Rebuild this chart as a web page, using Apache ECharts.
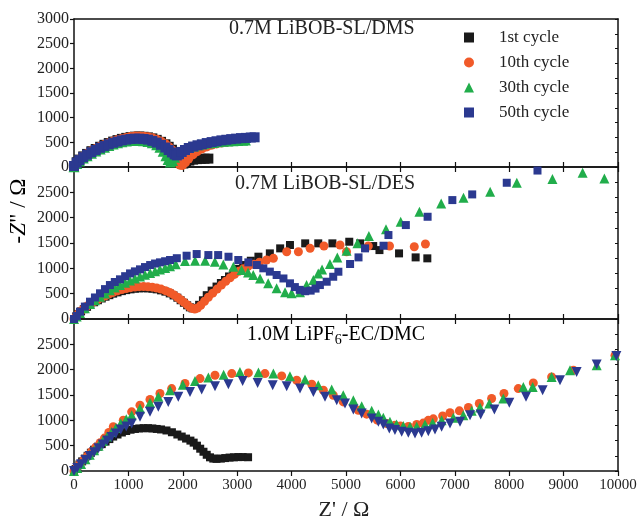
<!DOCTYPE html>
<html><head><meta charset="utf-8">
<script src="https://cdn.jsdelivr.net/npm/echarts@6/dist/echarts.min.js"></script>
<style>html,body{margin:0;padding:0;background:#fff}#c{width:641px;height:522px}</style>
</head><body><div id="c"></div>
<script>
// ---------- data (Z', -Z'') ----------
const cycleNames = ['1st cycle', '10th cycle', '30th cycle', '50th cycle'];
const panelLabels = ['0.7M LiBOB-SL/DMS', '0.7M LiBOB-SL/DES', '1.0M LiPF6-EC/DMC'];
const xTicks = [0, 10000, 1000];
const yTicks = [0, 3000, 500];

// Panel 1: 0.7M LiBOB-SL/DMS
const dms1 = [[0,20],[50,95],[100,150],[170,215],[240,265],[320,320],[400,365],[480,410],[560,450],[640,485],[720,515],[800,545],[880,570],[960,590],[1040,605],[1120,615],[1200,618],[1280,612],[1360,600],[1440,580],[1520,550],[1600,510],[1680,460],[1740,410],[1800,350],[1850,290],[1900,220],[1940,150],[1975,90],[2010,70],[2060,100],[2120,130],[2190,150],[2260,160],[2330,165],[2400,168],[2470,170]];
const dms10 = [[0,15],[50,90],[100,145],[170,210],[240,262],[320,318],[400,365],[480,408],[560,448],[640,483],[720,515],[800,545],[880,570],[960,590],[1040,607],[1120,617],[1200,620],[1280,615],[1360,603],[1440,583],[1520,553],[1600,512],[1680,460],[1740,405],[1800,340],[1850,270],[1890,190],[1920,110],[1950,45],[1990,40],[2040,90],[2100,170],[2180,255],[2260,320],[2350,375],[2440,415],[2530,450],[2620,475],[2710,495],[2800,510],[2890,523],[2980,533],[3070,540],[3140,545]];
const dms30 = [[0,5],[50,70],[100,120],[170,180],[240,230],[320,280],[400,325],[480,365],[560,400],[640,435],[720,465],[800,490],[880,510],[960,525],[1040,535],[1120,540],[1200,538],[1280,530],[1360,515],[1440,490],[1520,450],[1580,400],[1640,320],[1690,230],[1730,150],[1770,100],[1810,130],[1850,200],[1900,270],[1960,320],[2030,360],[2110,395],[2200,425],[2290,450],[2380,470],[2470,485],[2560,498],[2650,510],[2740,520],[2830,527],[2920,533],[3010,538],[3100,542],[3150,545]];
const dms50 = [[0,20],[50,90],[100,140],[170,200],[240,250],[320,300],[400,345],[480,390],[560,425],[640,460],[720,490],[800,515],[880,540],[960,555],[1040,568],[1120,575],[1200,575],[1280,568],[1360,555],[1440,530],[1520,495],[1600,450],[1680,395],[1740,345],[1800,295],[1850,255],[1890,235],[1930,260],[1980,305],[2040,345],[2110,385],[2190,415],[2270,440],[2350,460],[2440,485],[2530,505],[2620,522],[2710,540],[2800,552],[2890,565],[2980,575],[3070,585],[3160,590],[3250,598],[3320,602]];

// Panel 2: 0.7M LiBOB-SL/DES
const des1 = [[0,0],[40,50],[80,100],[130,150],[180,195],[240,240],[300,285],[370,330],[440,370],[510,405],[580,440],[650,470],[720,500],[800,525],[880,550],[960,570],[1040,585],[1120,598],[1200,605],[1280,608],[1360,605],[1440,598],[1520,585],[1600,565],[1680,540],[1760,505],[1830,465],[1900,420],[1960,370],[2020,320],[2080,270],[2130,230],[2180,210],[2230,220],[2300,280],[2370,370],[2440,470],[2530,560],[2620,640],[2700,710],[2775,770],[2850,840],[2930,900],[3020,990],[3110,1065],[3250,1150],[3390,1230],[3600,1295],[3790,1394],[3970,1460],[4250,1493],[4490,1493],[4750,1493],[5060,1525],[5260,1493],[5500,1440],[5615,1360],[5975,1295],[6280,1216],[6495,1197]];
const des10 = [[0,0],[40,55],[80,105],[130,160],[180,205],[240,255],[300,300],[370,345],[440,385],[510,425],[580,460],[650,495],[720,525],[800,555],[880,580],[960,600],[1040,618],[1120,630],[1200,638],[1280,640],[1360,637],[1440,628],[1520,612],[1600,590],[1680,560],[1760,522],[1830,480],[1900,430],[1960,380],[2020,330],[2080,280],[2130,235],[2180,205],[2220,195],[2270,215],[2330,270],[2400,350],[2470,430],[2550,510],[2630,590],[2710,670],[2790,745],[2870,815],[2950,880],[3030,940],[3110,990],[3200,1040],[3300,1080],[3410,1120],[3540,1164],[3665,1197],[3910,1328],[4125,1328],[4340,1394],[4595,1440],[4890,1460],[5010,1328],[5410,1440],[5800,1440],[6255,1427],[6460,1480]];
const des30 = [[0,0],[50,50],[110,120],[200,210],[294,295],[385,370],[478,440],[570,505],[660,565],[750,620],[845,670],[940,715],[1030,760],[1120,800],[1213,840],[1305,875],[1400,910],[1490,940],[1580,975],[1675,1005],[1765,1040],[1870,1080],[2040,1144],[2225,1150],[2410,1150],[2590,1130],[2745,1078],[2930,1032],[3080,966],[3200,920],[3295,868],[3420,800],[3570,704],[3725,605],[3880,526],[4000,510],[4155,526],[4275,670],[4400,770],[4490,900],[4560,975],[4705,1085],[4840,1216],[5010,1347],[5210,1493],[5420,1637],[5735,1769],[6005,1920],[6350,2117],[6750,2282],[7160,2393],[7650,2511],[8140,2689],[8795,2761],[9350,2886],[9750,2775]];
const des50 = [[0,0],[50,60],[110,145],[200,245],[294,342],[385,425],[478,507],[570,590],[660,670],[750,730],[845,783],[940,845],[1030,900],[1120,940],[1213,980],[1305,1025],[1400,1065],[1490,1095],[1580,1118],[1675,1140],[1765,1164],[1890,1200],[2070,1249],[2255,1282],[2470,1262],[2650,1262],[2840,1229],[3020,1164],[3205,1118],[3360,1065],[3480,1000],[3600,935],[3725,868],[3850,800],[3970,704],[4060,630],[4150,575],[4250,548],[4350,560],[4440,600],[4520,670],[4645,736],[4765,834],[4860,933],[5075,1085],[5230,1216],[5350,1394],[5690,1446],[5780,1657],[6100,1854],[6500,2018],[6955,2347],[7320,2459],[7955,2689],[8520,2930]];

// Panel 3: 1.0M LiPF6-EC/DMC
const pf1 = [[0,0],[30,40],[60,80],[100,130],[150,190],[200,245],[250,300],[310,360],[370,420],[440,480],[510,530],[580,580],[650,630],[720,680],[800,720],[880,760],[960,790],[1040,815],[1120,830],[1200,840],[1280,845],[1360,845],[1440,840],[1520,830],[1600,820],[1700,800],[1800,765],[1900,720],[1980,680],[2060,640],[2140,600],[2200,560],[2260,500],[2320,440],[2380,380],[2440,320],[2500,270],[2560,245],[2620,240],[2700,245],[2780,255],[2860,265],[2940,270],[3020,275],[3100,275],[3200,272]];
const pf10 = [[0,0],[50,70],[110,140],[180,220],[250,300],[320,380],[400,470],[480,560],[560,650],[640,760],[722,873],[906,1004],[1060,1168],[1213,1299],[1397,1411],[1580,1529],[1795,1627],[2040,1726],[2316,1824],[2592,1890],[2900,1923],[3205,1936],[3510,1923],[3818,1877],[4094,1791],[4370,1713],[4584,1594],[4766,1496],[4950,1364],[5227,1200],[5380,1122],[5576,1004],[5747,938],[5900,905],[6000,890],[6146,880],[6300,920],[6420,945],[6513,1000],[6605,1030],[6777,1085],[6912,1150],[7084,1187],[7250,1253],[7450,1332],[7677,1430],[7904,1529],[8167,1627],[8443,1738],[8780,1857],[9180,1988],[9945,2283]];
const pf30 = [[0,0],[60,60],[130,140],[210,230],[290,320],[370,410],[450,500],[530,590],[610,680],[690,770],[770,850],[860,940],[960,1020],[1060,1102],[1213,1234],[1397,1345],[1550,1463],[1765,1594],[2000,1700],[2224,1778],[2470,1844],[2750,1900],[3050,1955],[3390,1942],[3665,1923],[3970,1870],[4246,1805],[4490,1693],[4737,1608],[4950,1496],[5135,1398],[5288,1279],[5472,1187],[5595,1116],[5686,1049],[5808,970],[5930,919],[6054,886],[6176,873],[6300,880],[6452,919],[6593,951],[6758,1004],[6973,1049],[7157,1102],[7310,1187],[7463,1253],[7634,1332],[7892,1430],[8260,1660],[8432,1660],[8780,1857],[9118,1988],[9608,2087],[9945,2283]];
const pf50 = [[0,0],[60,60],[130,135],[210,215],[290,295],[370,370],[450,450],[530,525],[610,600],[690,670],[770,740],[860,820],[960,880],[1060,938],[1213,1070],[1397,1168],[1550,1266],[1733,1364],[1917,1463],[2132,1561],[2347,1608],[2592,1673],[2838,1713],[3100,1778],[3376,1738],[3652,1693],[3910,1673],[4154,1627],[4400,1561],[4614,1463],[4830,1398],[4982,1332],[5135,1214],[5288,1135],[5472,1037],[5595,970],[5686,919],[5796,840],[5900,807],[6024,774],[6146,754],[6268,741],[6390,754],[6513,787],[6636,820],[6758,873],[6912,938],[7096,970],[7280,1102],[7476,1116],[7727,1214],[8002,1345],[8309,1463],[8615,1594],[8934,1791],[9240,1955],[9608,2100],[9970,2270]];

// ---------- chart ----------
const FONT = '"Liberation Serif", "DejaVu Serif", serif';
const colors = ['#1a1a1a', '#f15a29', '#21ad4b', '#2b3990'];
const panels = [
  [dms1, dms10, dms30, dms50],
  [des1, des10, des30, des50],
  [pf1, pf10, pf30, pf50]
];
const symbolsByPanel = [
  ['rect', 'circle', 'triangle', 'rect'],
  ['rect', 'circle', 'triangle', 'rect'],
  ['rect', 'circle', 'triangle', 'triangle']
];
const sizesByPanel = [
  [10, 10, 11, 10],
  [8, 9, 10, 8],
  [8, 9, 10, 10]
];
const gridTops = [19, 167, 319];
const gridHeights = [148, 152, 152];

const chart = echarts.init(document.getElementById('c'), null, {renderer: 'canvas'});
const grids = [], xAxes = [], yAxes = [], series = [];
const lineStyle = {color: '#111', width: 1.5};
const plain = v => String(v);

for (let p = 0; p < 3; p++) {
  grids.push({left: 74, right: 23, top: gridTops[p], height: gridHeights[p]});
  const isBottom = p === 2;
  xAxes.push({
    type: 'value', gridIndex: p, position: 'bottom', min: xTicks[0], max: xTicks[1], interval: xTicks[2],
    axisLine: {show: true, onZero: false, lineStyle},
    axisTick: {show: true, inside: !isBottom, length: 5, lineStyle: {color: '#111', width: 1.2}},
    axisLabel: {show: isBottom, formatter: plain, color: '#222', fontFamily: FONT, fontSize: 15, margin: 7},
    splitLine: {show: false}
  });
  xAxes.push({
    type: 'value', gridIndex: p, position: 'top', min: xTicks[0], max: xTicks[1], interval: xTicks[2],
    axisLine: {show: true, onZero: false, lineStyle},
    axisTick: {show: p > 0, inside: true, length: 5, lineStyle: {color: '#111', width: 1.2}},
    axisLabel: {show: false}, splitLine: {show: false}
  });
  yAxes.push({
    type: 'value', gridIndex: p, position: 'left', min: yTicks[0], max: yTicks[1], interval: yTicks[2],
    axisLine: {show: true, onZero: false, lineStyle},
    axisTick: {show: true, inside: false, length: 4, lineStyle: {color: '#111', width: 1.2}},
    axisLabel: {formatter: plain, color: '#222', fontFamily: FONT, fontSize: 16, margin: 5, showMaxLabel: p === 0},
    splitLine: {show: false}
  });
  yAxes.push({
    type: 'value', gridIndex: p, position: 'right', min: 0, max: 3000, interval: 300,
    axisLine: {show: true, onZero: false, lineStyle},
    axisTick: {show: true, inside: true, length: 3, lineStyle: {color: '#111', width: 1}},
    axisLabel: {show: false}, splitLine: {show: false}
  });
  for (let s = 0; s < 4; s++) {
    series.push({
      name: cycleNames[s], type: 'scatter',
      xAxisIndex: p * 2, yAxisIndex: p * 2,
      symbol: symbolsByPanel[p][s], symbolSize: sizesByPanel[p][s],
      symbolRotate: (p === 2 && s === 3) ? 180 : 0,
      itemStyle: {color: colors[s], opacity: 1},
      data: panels[p][s],
      z: 2 + s
    });
  }
}

const option = {
  backgroundColor: '#fff',
  animation: false,
  grid: grids, xAxis: xAxes, yAxis: yAxes, series,
  legend: {
    data: cycleNames.map((n, i) => ({name: n, icon: ['rect', 'circle', 'triangle', 'rect'][i]})),
    orient: 'vertical', left: 459, top: 24, itemWidth: 10, itemHeight: 10, itemGap: 8,
    textStyle: {fontFamily: FONT, fontSize: 17, color: '#222', padding: [0, 0, 0, 20]}
  },
  graphic: [
    {type: 'text', left: 229, top: 19, style: {text: panelLabels[0], font: '20px ' + FONT, fill: '#222'}},
    {type: 'text', left: 235, top: 174, style: {text: panelLabels[1], font: '20px ' + FONT, fill: '#222'}},
    {type: 'text', left: 247, top: 325, style: {
      text: '{a|1.0M LiPF}{s|6}{a|-EC/DMC}',
      rich: {a: {fontFamily: FONT, fontSize: 20, color: '#222'},
             s: {fontFamily: FONT, fontSize: 14, color: '#222', padding: [11, 0, 0, 0]}}
    }},
    {type: 'text', x: 344, y: 510, style: {text: "Z' / Ω", font: '22px ' + FONT, fill: '#222', align: 'center', verticalAlign: 'middle'}},
    {type: 'text', x: 19, y: 211, rotation: Math.PI / 2, style: {
      text: '{n|-}{i|Z}{n|" / Ω}', align: 'center', verticalAlign: 'middle',
      rich: {n: {fontFamily: FONT, fontSize: 23, color: '#222'},
             i: {fontFamily: FONT, fontSize: 23, fontStyle: 'italic', color: '#222'}}
    }}
  ]
};
chart.setOption(option);
</script></body></html>
